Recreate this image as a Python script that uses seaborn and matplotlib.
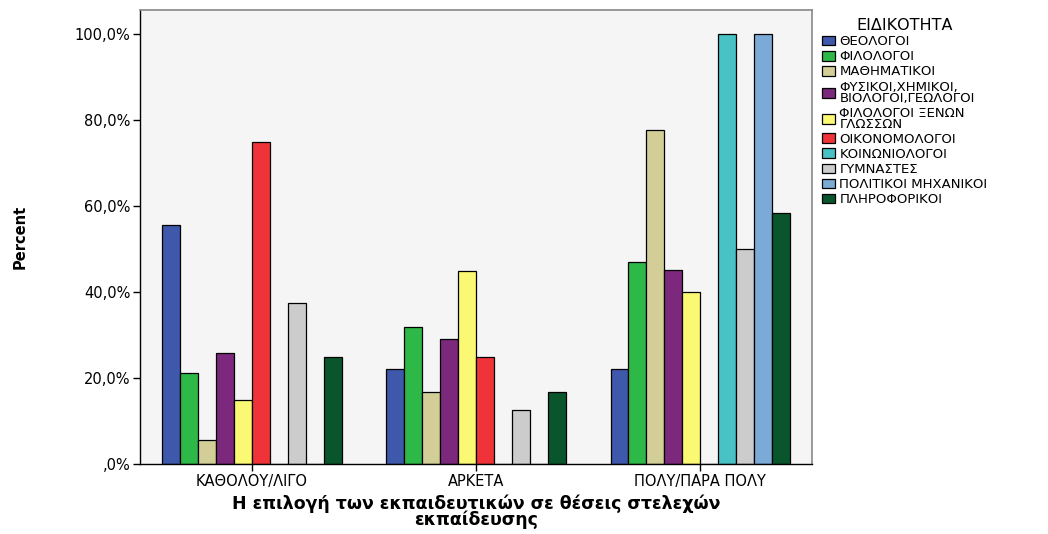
import pandas as pd
import matplotlib
matplotlib.use("Agg")
import matplotlib.pyplot as plt
from matplotlib.ticker import FuncFormatter
import seaborn as sns

# categories on the x axis
answers = ["ΚΑΘΟΛΟΥ/ΛΙΓΟ", "ΑΡΚΕΤΑ", "ΠΟΛΥ/ΠΑΡΑ ΠΟΛΥ"]

# specialties (hue)
specialties = [
    "ΘΕΟΛΟΓΟΙ",
    "ΦΙΛΟΛΟΓΟΙ",
    "ΜΑΘΗΜΑΤΙΚΟΙ",
    "ΦΥΣΙΚΟΙ,ΧΗΜΙΚΟΙ,\nΒΙΟΛΟΓΟΙ,ΓΕΩΛΟΓΟΙ",
    "ΦΙΛΟΛΟΓΟΙ ΞΕΝΩΝ\nΓΛΩΣΣΩΝ",
    "ΟΙΚΟΝΟΜΟΛΟΓΟΙ",
    "ΚΟΙΝΩΝΙΟΛΟΓΟΙ",
    "ΓΥΜΝΑΣΤΕΣ",
    "ΠΟΛΙΤΙΚΟΙ ΜΗΧΑΝΙΚΟΙ",
    "ΠΛΗΡΟΦΟΡΙΚΟΙ",
]

# percent per answer, one list per specialty
theologoi = [55.6, 22.2, 22.2]
filologoi = [21.2, 31.9, 46.9]
mathimatikoi = [5.6, 16.7, 77.8]
fysikoi = [25.8, 29.0, 45.2]
xenon_glosson = [15.0, 45.0, 40.0]
oikonomologoi = [75.0, 25.0, 0.0]
koinoniologoi = [0.0, 0.0, 100.0]
gymnastes = [37.5, 12.5, 50.0]
politikoi_mix = [0.0, 0.0, 100.0]
pliroforikoi = [25.0, 16.7, 58.3]

series = [theologoi, filologoi, mathimatikoi, fysikoi, xenon_glosson,
          oikonomologoi, koinoniologoi, gymnastes, politikoi_mix, pliroforikoi]

colors = ["#3E58AC", "#2EB848", "#D3CE97", "#7C287D", "#FBF873",
          "#EF3338", "#48C2C5", "#CCCCCC", "#7AAAD5", "#0A562C"]

rows = []
for spec, vals in zip(specialties, series):
    for ans, v in zip(answers, vals):
        rows.append({"answer": ans, "spec": spec, "pct": v})
df = pd.DataFrame(rows)

sns.set_style("white")
plt.rcParams["font.family"] = ["DejaVu Sans"]
plt.rcParams["text.color"] = "black"
plt.rcParams["axes.labelcolor"] = "black"
plt.rcParams["xtick.color"] = "black"
plt.rcParams["ytick.color"] = "black"

fig = plt.figure(figsize=(10.48, 5.34), dpi=100)
ax = fig.add_axes([0.1336, 0.131, 0.6414, 0.85])
ax.set_facecolor("#F5F5F5")

sns.barplot(data=df, x="answer", y="pct", hue="spec", order=answers,
            hue_order=specialties, palette=colors, width=0.8, gap=0,
            edgecolor="black", linewidth=0.9, errorbar=None, ax=ax,
            saturation=1)

ax.set_xlim(-0.5, 2.5)
ax.set_ylim(0, 105.6)
ax.set_yticks([0, 20, 40, 60, 80, 100])


def pct_fmt(v, pos):
    s = f"{v:.1f}".replace(".", ",")
    if s.startswith("0"):
        s = s[1:]
    return s + "%"


ax.yaxis.set_major_formatter(FuncFormatter(pct_fmt))
ax.tick_params(axis="both", labelsize=10.5, length=5, width=1,
               color="black", left=True, bottom=True, pad=2)
for side in ["left", "bottom"]:
    ax.spines[side].set_color("black")
    ax.spines[side].set_linewidth(1.0)
for side in ["top", "right"]:
    ax.spines[side].set_color("#888888")
    ax.spines[side].set_linewidth(1.2)

ax.set_ylabel("Percent", fontsize=10.5, fontweight="bold", labelpad=34)
ax.set_xlabel("Η επιλογή των εκπαιδευτικών σε θέσεις στελεχών\nεκπαίδευσης",
              fontsize=12.5, fontweight="bold", linespacing=0.85, labelpad=4)

leg = ax.legend(title="ΕΙΔΙΚΟΤΗΤΑ", loc="upper left",
                bbox_to_anchor=(1.003, 1.0), frameon=False, fontsize=9.5,
                title_fontsize=11.5, handlelength=1.0, handleheight=0.75,
                handletextpad=0.3, labelspacing=0.16, borderaxespad=0.2)
for lbl in leg.get_texts():
    lbl.set_linespacing(0.8)

fig.savefig("out.png", dpi=100)
